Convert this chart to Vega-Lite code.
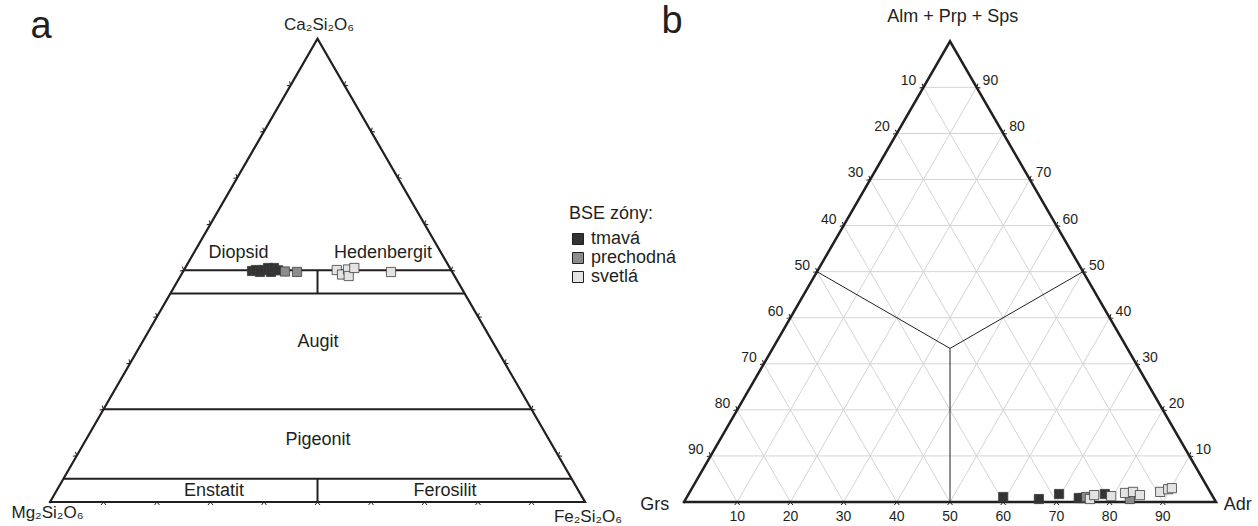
{
  "$schema": "https://vega.github.io/schema/vega-lite/v6.json",
  "padding": 0,
  "spacing": 0,
  "background": "white",
  "config": {"view": {"stroke": null}, "text": {"font": "Liberation Sans", "color": "#231f20"}},
  "datasets": {
    "frame": [
      {"x": 0, "y": 0, "o": 0}, {"x": 100, "y": 0, "o": 1}, {"x": 50, "y": 86.6, "o": 2}, {"x": 0, "y": 0, "o": 3}
    ],
    "a_lines": [
      {"x": 25, "y": 43.3, "x2": 75, "y2": 43.3},
      {"x": 22.5, "y": 38.97, "x2": 77.5, "y2": 38.97},
      {"x": 10, "y": 17.32, "x2": 90, "y2": 17.32},
      {"x": 2.5, "y": 4.33, "x2": 97.5, "y2": 4.33},
      {"x": 50, "y": 38.97, "x2": 50, "y2": 43.3},
      {"x": 50, "y": 0, "x2": 50, "y2": 4.33}
    ],
    "ticks": [
      {"side": "base", "x": 10, "y": 0, "label": "10"},
      {"side": "base", "x": 20, "y": 0, "label": "20"},
      {"side": "base", "x": 30, "y": 0, "label": "30"},
      {"side": "base", "x": 40, "y": 0, "label": "40"},
      {"side": "base", "x": 50, "y": 0, "label": "50"},
      {"side": "base", "x": 60, "y": 0, "label": "60"},
      {"side": "base", "x": 70, "y": 0, "label": "70"},
      {"side": "base", "x": 80, "y": 0, "label": "80"},
      {"side": "base", "x": 90, "y": 0, "label": "90"},
      {"side": "left", "x": 45, "y": 77.94, "label": "10"},
      {"side": "left", "x": 40, "y": 69.28, "label": "20"},
      {"side": "left", "x": 35, "y": 60.62, "label": "30"},
      {"side": "left", "x": 30, "y": 51.96, "label": "40"},
      {"side": "left", "x": 25, "y": 43.3, "label": "50"},
      {"side": "left", "x": 20, "y": 34.64, "label": "60"},
      {"side": "left", "x": 15, "y": 25.98, "label": "70"},
      {"side": "left", "x": 10, "y": 17.32, "label": "80"},
      {"side": "left", "x": 5, "y": 8.66, "label": "90"},
      {"side": "right", "x": 95, "y": 8.66, "label": "10"},
      {"side": "right", "x": 90, "y": 17.32, "label": "20"},
      {"side": "right", "x": 85, "y": 25.98, "label": "30"},
      {"side": "right", "x": 80, "y": 34.64, "label": "40"},
      {"side": "right", "x": 75, "y": 43.3, "label": "50"},
      {"side": "right", "x": 70, "y": 51.96, "label": "60"},
      {"side": "right", "x": 65, "y": 60.62, "label": "70"},
      {"side": "right", "x": 60, "y": 69.28, "label": "80"},
      {"side": "right", "x": 55, "y": 77.94, "label": "90"}
    ],
    "a_points": [
      {"x": 37.76, "y": 43.18, "zone": "tmavá"},
      {"x": 38.5, "y": 43.36, "zone": "tmavá"},
      {"x": 39.25, "y": 43.0, "zone": "tmavá"},
      {"x": 40.0, "y": 43.36, "zone": "tmavá"},
      {"x": 40.75, "y": 43.74, "zone": "tmavá"},
      {"x": 41.31, "y": 43.0, "zone": "tmavá"},
      {"x": 41.87, "y": 43.74, "zone": "tmavá"},
      {"x": 42.62, "y": 43.3, "zone": "tmavá"},
      {"x": 43.93, "y": 43.08, "zone": "prechodná"},
      {"x": 46.17, "y": 43.0, "zone": "prechodná"},
      {"x": 53.59, "y": 43.36, "zone": "svetlá"},
      {"x": 54.58, "y": 42.52, "zone": "svetlá"},
      {"x": 55.7, "y": 43.46, "zone": "svetlá"},
      {"x": 55.83, "y": 42.24, "zone": "svetlá"},
      {"x": 56.88, "y": 43.74, "zone": "svetlá"},
      {"x": 63.74, "y": 42.99, "zone": "svetlá"}
    ],
    "a_regions": [
      {"x": 35.23, "y": 46.54, "t": "Diopsid"},
      {"x": 62.24, "y": 46.54, "t": "Hedenbergit"},
      {"x": 50.09, "y": 29.91, "t": "Augit"},
      {"x": 50.09, "y": 11.59, "t": "Pigeonit"},
      {"x": 30.65, "y": 2.06, "t": "Enstatit"},
      {"x": 73.83, "y": 2.06, "t": "Ferosilit"}
    ],
    "a_vertices": [
      {"x": 50.3, "y": 89.16, "t": "Ca₂Si₂O₆"},
      {"x": -0.47, "y": -2.06, "t": "Mg₂Si₂O₆"},
      {"x": 100.56, "y": -2.75, "t": "Fe₂Si₂O₆"}
    ],
    "a_letter": [{"x": -1.68, "y": 88.79, "t": "a"}],
    "b_grid": [
      {"x": 5, "y": 8.66, "x2": 95, "y2": 8.66},
      {"x": 10, "y": 17.32, "x2": 90, "y2": 17.32},
      {"x": 15, "y": 25.98, "x2": 85, "y2": 25.98},
      {"x": 20, "y": 34.64, "x2": 80, "y2": 34.64},
      {"x": 25, "y": 43.3, "x2": 75, "y2": 43.3},
      {"x": 30, "y": 51.96, "x2": 70, "y2": 51.96},
      {"x": 35, "y": 60.62, "x2": 65, "y2": 60.62},
      {"x": 40, "y": 69.28, "x2": 60, "y2": 69.28},
      {"x": 45, "y": 77.94, "x2": 55, "y2": 77.94},
      {"x": 10, "y": 0, "x2": 55, "y2": 77.94},
      {"x": 20, "y": 0, "x2": 60, "y2": 69.28},
      {"x": 30, "y": 0, "x2": 65, "y2": 60.62},
      {"x": 40, "y": 0, "x2": 70, "y2": 51.96},
      {"x": 50, "y": 0, "x2": 75, "y2": 43.3},
      {"x": 60, "y": 0, "x2": 80, "y2": 34.64},
      {"x": 70, "y": 0, "x2": 85, "y2": 25.98},
      {"x": 80, "y": 0, "x2": 90, "y2": 17.32},
      {"x": 90, "y": 0, "x2": 95, "y2": 8.66},
      {"x": 90, "y": 0, "x2": 45, "y2": 77.94},
      {"x": 80, "y": 0, "x2": 40, "y2": 69.28},
      {"x": 70, "y": 0, "x2": 35, "y2": 60.62},
      {"x": 60, "y": 0, "x2": 30, "y2": 51.96},
      {"x": 50, "y": 0, "x2": 25, "y2": 43.3},
      {"x": 40, "y": 0, "x2": 20, "y2": 34.64},
      {"x": 30, "y": 0, "x2": 15, "y2": 25.98},
      {"x": 20, "y": 0, "x2": 10, "y2": 17.32},
      {"x": 10, "y": 0, "x2": 5, "y2": 8.66}
    ],
    "b_inner": [
      {"x": 25, "y": 43.3, "x2": 50, "y2": 28.87},
      {"x": 75, "y": 43.3, "x2": 50, "y2": 28.87},
      {"x": 50, "y": 28.87, "x2": 50, "y2": 0}
    ],
    "b_points": [
      {"x": 60.0, "y": 0.94, "zone": "tmavá"},
      {"x": 66.7, "y": 0.56, "zone": "tmavá"},
      {"x": 70.5, "y": 1.5, "zone": "tmavá"},
      {"x": 74.2, "y": 0.75, "zone": "tmavá"},
      {"x": 75.0, "y": 0.75, "zone": "tmavá"},
      {"x": 75.6, "y": 0.94, "zone": "prechodná"},
      {"x": 76.3, "y": 0.56, "zone": "svetlá"},
      {"x": 77.1, "y": 1.3, "zone": "svetlá"},
      {"x": 79.1, "y": 1.5, "zone": "tmavá"},
      {"x": 80.3, "y": 1.1, "zone": "svetlá"},
      {"x": 83.8, "y": 0.56, "zone": "prechodná"},
      {"x": 82.9, "y": 1.7, "zone": "svetlá"},
      {"x": 84.4, "y": 1.9, "zone": "svetlá"},
      {"x": 85.7, "y": 1.3, "zone": "svetlá"},
      {"x": 89.5, "y": 1.9, "zone": "svetlá"},
      {"x": 91.0, "y": 2.4, "zone": "svetlá"},
      {"x": 91.7, "y": 2.6, "zone": "svetlá"}
    ],
    "b_vertices": [
      {"x": 50.5, "y": 91.17, "t": "Alm + Prp + Sps"},
      {"x": -5.5, "y": -0.56, "t": "Grs"},
      {"x": 104.1, "y": -0.56, "t": "Adr"}
    ],
    "b_letter": [{"x": -2.26, "y": 90.2, "t": "b"}]
  },
  "hconcat": [
    {
      "width": 629,
      "height": 526,
      "encoding": {
        "x": {"field": "x", "type": "quantitative", "scale": {"domain": [-9.346, 108.22], "nice": false, "zero": false}, "axis": null},
        "y": {"field": "y", "type": "quantitative", "scale": {"domain": [-4.486, 93.83], "nice": false, "zero": false}, "axis": null}
      },
      "layer": [
        {"data": {"name": "frame"}, "mark": {"type": "line", "stroke": "#231f20", "strokeWidth": 2.2, "strokeJoin": "miter", "strokeCap": "square"}, "encoding": {"order": {"field": "o", "type": "quantitative"}}},
        {"data": {"name": "a_lines"}, "mark": {"type": "rule", "stroke": "#231f20", "strokeWidth": 2}, "encoding": {"x2": {"field": "x2"}, "y2": {"field": "y2"}}},
        {"data": {"name": "ticks"}, "transform": [{"filter": "datum.side == 'base'"}], "mark": {"type": "point", "shape": "M-1,1.2L0,0L1,1.2", "size": 25, "filled": false, "stroke": "#231f20", "strokeWidth": 1, "opacity": 1}},
        {"data": {"name": "ticks"}, "transform": [{"filter": "datum.side == 'left'"}], "mark": {"type": "point", "shape": "M-1,1.2L0,0L1,1.2", "angle": 120, "size": 25, "filled": false, "stroke": "#231f20", "strokeWidth": 1, "opacity": 1}},
        {"data": {"name": "ticks"}, "transform": [{"filter": "datum.side == 'right'"}], "mark": {"type": "point", "shape": "M-1,1.2L0,0L1,1.2", "angle": 240, "size": 25, "filled": false, "stroke": "#231f20", "strokeWidth": 1, "opacity": 1}},
        {"data": {"name": "a_points"}, "mark": {"type": "point", "shape": "square", "filled": true, "size": 85, "stroke": "#3c3c3c", "strokeWidth": 0.8, "opacity": 1},
          "encoding": {"color": {"field": "zone", "type": "nominal", "scale": {"domain": ["tmavá", "prechodná", "svetlá"], "range": ["#333333", "#8c8c8c", "#e3e3e3"]},
            "legend": {"orient": "none", "legendX": 569, "legendY": 205, "title": "BSE zóny:", "titleFont": "Liberation Sans", "titleFontSize": 18, "titleFontWeight": "normal", "titleColor": "#231f20", "titlePadding": 7, "labelFont": "Liberation Sans", "labelFontSize": 18, "labelColor": "#231f20", "labelOffset": 4, "symbolType": "square", "symbolSize": 121, "symbolStrokeColor": "#231f20", "symbolStrokeWidth": 1, "symbolOpacity": 1, "rowPadding": 1, "padding": 0}}}},
        {"data": {"name": "a_regions"}, "mark": {"type": "text", "fontSize": 18, "align": "center", "baseline": "middle"}, "encoding": {"text": {"field": "t"}}},
        {"data": {"name": "a_vertices"}, "mark": {"type": "text", "fontSize": 17, "align": "center", "baseline": "middle"}, "encoding": {"text": {"field": "t"}}},
        {"data": {"name": "a_letter"}, "mark": {"type": "text", "fontSize": 38, "align": "center", "baseline": "middle"}, "encoding": {"text": {"field": "t"}}}
      ]
    },
    {
      "width": 629,
      "height": 526,
      "encoding": {
        "x": {"field": "x", "type": "quantitative", "scale": {"domain": [-10.34, 107.89], "nice": false, "zero": false}, "axis": null},
        "y": {"field": "y", "type": "quantitative", "scale": {"domain": [-4.511, 94.36], "nice": false, "zero": false}, "axis": null}
      },
      "layer": [
        {"data": {"name": "b_grid"}, "mark": {"type": "rule", "stroke": "#d4d4d4", "strokeWidth": 1}, "encoding": {"x2": {"field": "x2"}, "y2": {"field": "y2"}}},
        {"data": {"name": "b_inner"}, "mark": {"type": "rule", "stroke": "#231f20", "strokeWidth": 1}, "encoding": {"x2": {"field": "x2"}, "y2": {"field": "y2"}}},
        {"data": {"name": "frame"}, "mark": {"type": "line", "stroke": "#231f20", "strokeWidth": 2.5, "strokeJoin": "miter", "strokeCap": "square"}, "encoding": {"order": {"field": "o", "type": "quantitative"}}},
        {"data": {"name": "ticks"}, "transform": [{"filter": "datum.side == 'base'"}], "mark": {"type": "point", "shape": "M-1,1.2L0,0L1,1.2", "size": 25, "filled": false, "stroke": "#231f20", "strokeWidth": 1, "opacity": 1}},
        {"data": {"name": "ticks"}, "transform": [{"filter": "datum.side == 'left'"}], "mark": {"type": "point", "shape": "M-1,1.2L0,0L1,1.2", "angle": 120, "size": 25, "filled": false, "stroke": "#231f20", "strokeWidth": 1, "opacity": 1}},
        {"data": {"name": "ticks"}, "transform": [{"filter": "datum.side == 'right'"}], "mark": {"type": "point", "shape": "M-1,1.2L0,0L1,1.2", "angle": 240, "size": 25, "filled": false, "stroke": "#231f20", "strokeWidth": 1, "opacity": 1}},
        {"data": {"name": "ticks"}, "transform": [{"filter": "datum.side == 'base'"}], "mark": {"type": "text", "fontSize": 14, "align": "center", "baseline": "middle", "dy": 15}, "encoding": {"text": {"field": "label"}}},
        {"data": {"name": "ticks"}, "transform": [{"filter": "datum.side == 'left'"}], "mark": {"type": "text", "fontSize": 14, "align": "right", "baseline": "middle", "dx": -7, "dy": -6}, "encoding": {"text": {"field": "label"}}},
        {"data": {"name": "ticks"}, "transform": [{"filter": "datum.side == 'right'"}], "mark": {"type": "text", "fontSize": 14, "align": "left", "baseline": "middle", "dx": 6, "dy": -6}, "encoding": {"text": {"field": "label"}}},
        {"data": {"name": "b_points"}, "mark": {"type": "point", "shape": "square", "filled": true, "size": 85, "stroke": "#3c3c3c", "strokeWidth": 0.8, "opacity": 1},
          "encoding": {"color": {"field": "zone", "type": "nominal", "scale": {"domain": ["tmavá", "prechodná", "svetlá"], "range": ["#333333", "#8c8c8c", "#e3e3e3"]},
            "legend": {"orient": "none", "legendX": 569, "legendY": 205, "title": "BSE zóny:", "titleFont": "Liberation Sans", "titleFontSize": 18, "titleFontWeight": "normal", "titleColor": "#231f20", "titlePadding": 7, "labelFont": "Liberation Sans", "labelFontSize": 18, "labelColor": "#231f20", "labelOffset": 4, "symbolType": "square", "symbolSize": 121, "symbolStrokeColor": "#231f20", "symbolStrokeWidth": 1, "symbolOpacity": 1, "rowPadding": 1, "padding": 0}}}},
        {"data": {"name": "b_vertices"}, "mark": {"type": "text", "fontSize": 18, "align": "center", "baseline": "middle"}, "encoding": {"text": {"field": "t"}}},
        {"data": {"name": "b_letter"}, "mark": {"type": "text", "fontSize": 38, "align": "center", "baseline": "middle"}, "encoding": {"text": {"field": "t"}}}
      ]
    }
  ]
}
